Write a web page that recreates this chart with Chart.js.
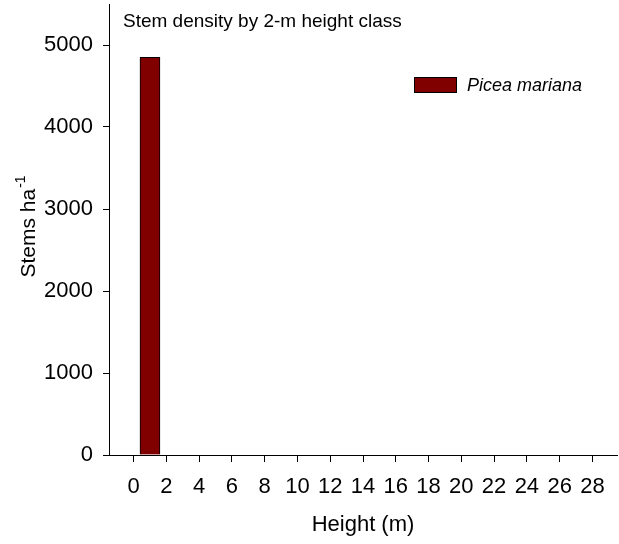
<!DOCTYPE html>
<html>
<head>
<meta charset="utf-8">
<script src="https://cdn.jsdelivr.net/npm/chart.js@4.4.0/dist/chart.umd.min.js"></script>
<style>
  html, body { margin: 0; padding: 0; background: #fff; }
  #wrap { width: 619px; height: 544px; position: relative; }
</style>
</head>
<body>
<div id="wrap"><canvas id="c" width="619" height="544"></canvas></div>
<script>
// ---- data ----
const heightClasses = [1];          // bar centre (m)
const stemDensity = [4850];         // stems per ha
const seriesName = 'Picea mariana';
const xTickValues = [0, 2, 4, 6, 8, 10, 12, 14, 16, 18, 20, 22, 24, 26, 28];
const yTickValues = [0, 1000, 2000, 3000, 4000, 5000];
const chartTitle = 'Stem density by 2-m height class';
const xTitle = 'Height (m)';
const yTitleMain = 'Stems ha';
const yTitleSup = '-1';

const FONT = "Arial, 'Liberation Sans', Helvetica, sans-serif";
const barColor = '#800000';

const overlay = {
  id: 'overlay',
  afterDraw(chart) {
    const ctx = chart.ctx;
    const area = chart.chartArea;
    ctx.save();
    ctx.fillStyle = '#000';
    // chart title
    ctx.font = `19px ${FONT}`;
    ctx.textAlign = 'left';
    ctx.textBaseline = 'alphabetic';
    ctx.fillText(chartTitle, area.left + 14, 27);
    // y title with superscript
    ctx.translate(35, 227);
    ctx.rotate(-Math.PI / 2);
    ctx.font = `21px ${FONT}`;
    const w1 = ctx.measureText(yTitleMain).width;
    ctx.font = `14px ${FONT}`;
    const w2 = ctx.measureText(yTitleSup).width;
    const start = -(w1 + w2) / 2;
    ctx.font = `21px ${FONT}`;
    ctx.fillText(yTitleMain, start, 0);
    ctx.font = `14px ${FONT}`;
    ctx.fillText(yTitleSup, start + w1 + 1, -10);
    ctx.restore();
    // legend
    ctx.save();
    ctx.fillStyle = barColor;
    ctx.fillRect(414.5, 77.5, 42, 15);
    ctx.strokeStyle = '#000';
    ctx.lineWidth = 1;
    ctx.strokeRect(414.5, 77.5, 42, 15);
    ctx.fillStyle = '#000';
    ctx.font = `italic 18px ${FONT}`;
    ctx.textAlign = 'left';
    ctx.textBaseline = 'middle';
    ctx.fillText(seriesName, 467, 86);
    ctx.restore();
  }
};

new Chart(document.getElementById('c'), {
  type: 'bar',
  data: {
    datasets: [{
      label: seriesName,
      data: heightClasses.map((h, i) => ({ x: h, y: stemDensity[i] })),
      backgroundColor: barColor,
      borderColor: '#000',
      borderWidth: 1,
      borderSkipped: 'bottom',
      barThickness: 20
    }]
  },
  options: {
    responsive: false,
    animation: false,
    devicePixelRatio: 1,
    layout: { padding: { left: 0, right: 2, top: 4, bottom: 0 } },
    plugins: {
      legend: { display: false },
      title: { display: false },
      tooltip: { enabled: false }
    },
    scales: {
      x: {
        type: 'linear',
        offset: false,
        min: -1.5,
        max: 29.5,
        afterBuildTicks(s) { s.ticks = xTickValues.map(v => ({ value: v })); },
        afterFit(s) { s.height = 89; s.paddingLeft = 0; s.paddingRight = 0; },
        grid: { offset: false, drawOnChartArea: false, drawTicks: true, tickLength: 7, color: '#000', lineWidth: 1 },
        border: { display: true, color: '#000', width: 1 },
        ticks: { color: '#000', padding: 12, font: { family: FONT, size: 22 }, maxRotation: 0, autoSkip: false,
                 callback: v => String(v) },
        title: { display: true, text: xTitle, color: '#000', font: { family: FONT, size: 22 }, padding: { top: 0, bottom: 6 } }
      },
      y: {
        type: 'linear',
        min: 0,
        max: 5500,
        afterBuildTicks(s) { s.ticks = yTickValues.map(v => ({ value: v })); },
        afterFit(s) { s.width = 109; s.paddingTop = 0; s.paddingBottom = 0; },
        grid: { drawOnChartArea: false, drawTicks: true, tickLength: 6, color: '#000', lineWidth: 1 },
        border: { display: true, color: '#000', width: 1 },
        ticks: { color: '#000', padding: 10, font: { family: FONT, size: 22 }, autoSkip: false,
                 callback: v => String(v) }
      }
    }
  },
  plugins: [overlay]
});
</script>
</body>
</html>
